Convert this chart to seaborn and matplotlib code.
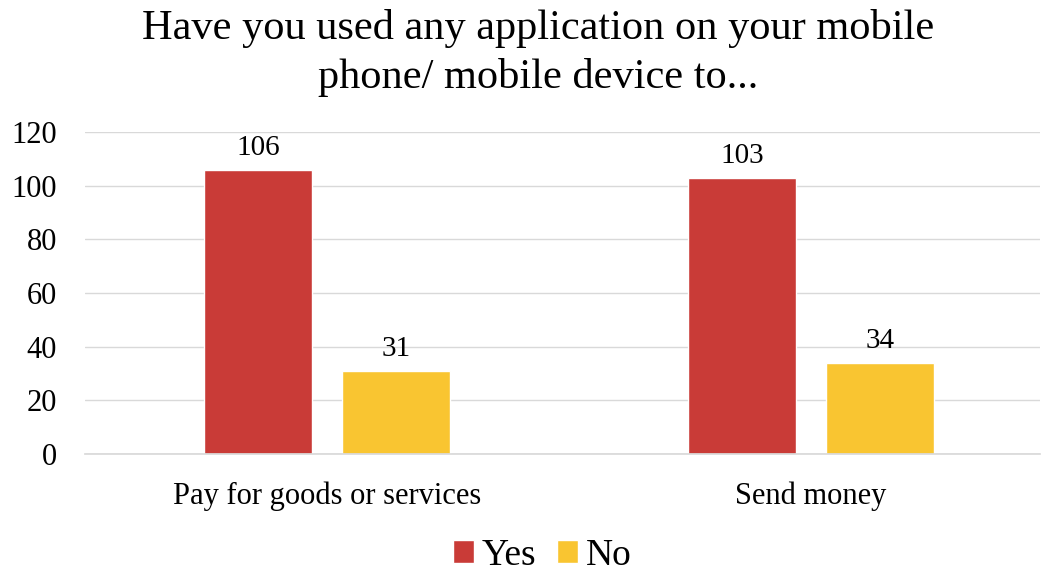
import matplotlib
matplotlib.use("Agg")
import matplotlib.pyplot as plt
import seaborn as sns
import pandas as pd

categories = ["Pay for goods or services", "Send money"]
yes_values = [106, 103]
no_values = [31, 34]
series = ["Yes", "No"]
colors = ["#C93B37", "#F9C531"]

df = pd.DataFrame({
    "category": categories * 2,
    "answer": ["Yes"] * len(categories) + ["No"] * len(categories),
    "value": yes_values + no_values,
})

sns.set_theme(style="white")
plt.rcParams["font.family"] = ["Liberation Serif", "DejaVu Serif"]
plt.rcParams["text.color"] = "black"

fig = plt.figure(figsize=(10.43, 5.71), dpi=100)
ax = fig.add_axes([85 / 1043, 1 - 454 / 571, (1040 - 85) / 1043, (454 - 132) / 571])

sns.barplot(data=df, x="category", y="value", hue="answer", hue_order=series,
            palette=colors, width=0.57, gap=0.22, ax=ax, saturation=1, legend=True)

ax.set_ylim(0, 120)
ax.set_xlim(-0.5, 1.473)
ax.set_yticks(range(0, 121, 20))
ax.yaxis.grid(True, color="#D9D9D9", linewidth=1)
ax.set_axisbelow(True)
for s in ["top", "right", "left"]:
    ax.spines[s].set_visible(False)
ax.spines["bottom"].set_color("#D9D9D9")
ax.tick_params(axis="both", length=0, labelsize=22, colors="black")
ax.tick_params(axis="y", pad=20)
ax.tick_params(axis="x", pad=20)
ax.set_xlabel("")
ax.set_ylabel("")

for cont in ax.containers:
    ax.bar_label(cont, fmt="%d", padding=6, fontsize=21, color="black")

handles, labels = ax.get_legend_handles_labels()
ax.legend_.remove()
fig.legend(handles, labels, loc="center", bbox_to_anchor=(0.52, 0.027), ncol=2,
           frameon=False, fontsize=27, handlelength=0.55, handleheight=0.55,
           handletextpad=0.22, columnspacing=0.55, labelcolor="black")

fig.suptitle("Have you used any application on your mobile\nphone/ mobile device to...",
             fontsize=30.5, x=0.516, y=0.985, va="top", linespacing=1.36, color="black")

fig.savefig("out.png", dpi=100)
